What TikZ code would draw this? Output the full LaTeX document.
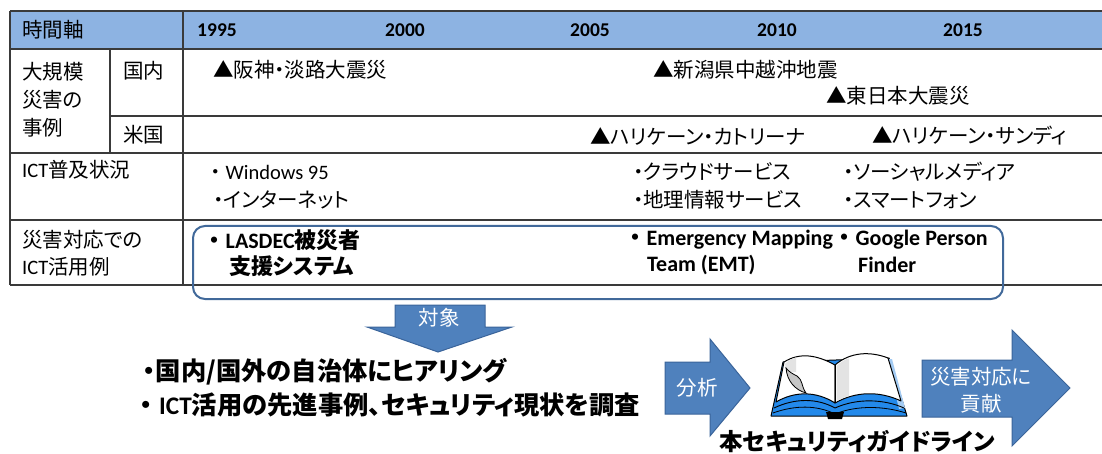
\documentclass[tikz,border=0pt]{standalone}
\usepackage{fontspec}
\setmainfont{Carlito}
\newfontfamily\jpf{Noto Sans CJK JP}[RawFeature=+palt]
\definecolor{hdrfill}{HTML}{8DB3E2}
\definecolor{gridline}{HTML}{3A3A3A}
\definecolor{arrowfill}{HTML}{4F81BD}
\definecolor{arrowline}{HTML}{3A649A}
\definecolor{boxline}{HTML}{41699A}
\definecolor{coverblue}{HTML}{2389EA}
\definecolor{edgeblue}{HTML}{A3CBF3}
\newcommand\tblsize{\fontsize{20.5}{24}\selectfont}
\newcommand\boldsize{\fontsize{22}{26}\selectfont}
% bullet dot followed by a Latin run
\newcommand\latinbullet{・\kern0.25em}
\begin{document}
\begin{tikzpicture}[x=1pt,y=-1pt,
  tight/.style={inner sep=0pt},
  txt/.style={tight,anchor=west,font=\tblsize\jpf},
  txtb/.style={tight,anchor=west,font=\boldsize\jpf\bfseries},
  yr/.style={tight,font=\fontsize{19.5}{22}\selectfont\bfseries},
  grid/.style={draw=gridline,line width=1.4pt},
  bigarrow/.style={fill=arrowfill,draw=arrowline,line width=1pt,line join=miter},
  wlab/.style={tight,text=white,font=\fontsize{20.5}{24}\selectfont\jpf},
  bul/.style={tight,anchor=west,font=\fontsize{25.3}{28}\selectfont\jpf\bfseries},
  ink/.style={draw=black,line width=1pt,line join=round}
]
\useasboundingbox (0,0) rectangle (1102,454);

% ---- timeline table ----
\fill[hdrfill] (10,11) rectangle (1102,49);
\draw[grid] (10,11) -- (1102,11);
\draw[grid] (10,49) -- (1102,49);
\draw[grid] (110,116) -- (1102,116);
\draw[grid] (10,153) -- (1102,153);
\draw[grid] (10,220) -- (1102,220);
\draw[grid] (10,285) -- (1102,285);
\draw[grid] (10,11) -- (10,285);
\draw[grid] (183,11) -- (183,285);
\draw[grid] (110,49) -- (110,153);

\node[txt] (axis) at (22,30) {時間軸};
\node[yr] (y1995) at (217,30) {1995};
\node[yr] (y2000) at (405,30) {2000};
\node[yr] (y2005) at (590,30) {2005};
\node[yr] (y2010) at (777,30) {2010};
\node[yr] (y2015) at (963,30) {2015};

\node[txt] (cases1) at (22,72) {大規模};
\node[txt] (cases2) at (22,100) {災害の};
\node[txt] (cases3) at (22,128) {事例};
\node[txt] (dom) at (123,71) {国内};
\node[txt] (usa) at (123,135) {米国};

\node[txt] (hanshin) at (213,70) {▲阪神・淡路大震災};
\node[txt] (chuetsu) at (653,70) {▲新潟県中越沖地震};
\node[txt] (tohoku) at (826,96) {▲東日本大震災};
\node[txt] (katrina) at (590,136) {▲ハリケーン・カトリーナ};
\node[txt] (sandy) at (872,136) {▲ハリケーン・サンディ};

\node[txt] (ictrow) at (22,170) {{\rmfamily ICT}普及状況};
\node[txt] (win) at (210,172) {\latinbullet{\rmfamily Windows 95}};
\node[txt] (inet) at (213,200) {・インターネット};
\node[txt] (cloud) at (633,172) {・クラウドサービス};
\node[txt] (gis) at (633,200) {・地理情報サービス};
\node[txt] (social) at (843,172) {・ソーシャルメディア};
\node[txt] (phone) at (843,200) {・スマートフォン};

\node[txt] (use1) at (22,240) {災害対応での};
\node[txt] (use2) at (22,267) {{\rmfamily ICT}活用例};
\node[txtb] (lasdec) at (209,240) {\latinbullet{\rmfamily LASDEC}被災者};
\node[txtb] (lasdec2) at (229,266) {支援システム};
\node[txtb] (emt) at (630,240) {\latinbullet{\rmfamily Emergency Mapping}};
\node[txtb] (emt2) at (647,265) {\rmfamily Team (EMT)};
\node[txtb] (gpf) at (839,240) {\latinbullet{\rmfamily Google Person}};
\node[txtb] (gpf2) at (858,265) {\rmfamily Finder};

% rounded frame around the ICT use cases
\node[draw=boxline,line width=2pt,rounded corners=12pt,inner sep=0pt,
      minimum width=810pt,minimum height=73pt] (usebox) at (598,262.5) {};

% ---- down arrow ----
\draw[bigarrow] (395,305) -- (485,305) -- (485,327) -- (512,327) -- (438,352)
  -- (367,327) -- (395,327) -- cycle;
\node[wlab] (target) at (439,318) {対象};

\node[bul] (hear) at (143,372) {・国内/国外の自治体にヒアリング};
\node[bul] (survey) at (140,405) {\latinbullet{\rmfamily ICT}活用の先進事例、セキュリティ現状を調査};

% ---- analysis arrow ----
\draw[bigarrow] (665,362) -- (710,362) -- (710,339) -- (750,388) -- (710,436)
  -- (710,414) -- (665,414) -- cycle;
\node[wlab] (analysis) at (697,388) {分析};

% ---- book ----
\filldraw[ink,fill=coverblue] (771,416) -- (783,362) -- (889,358) -- (907,416) -- cycle;
\fill[edgeblue] (887,359) -- (892,359) -- (905,408) -- (899,409) -- cycle;
% left page
\filldraw[ink,fill=white] (776,402) -- (784,362)
  .. controls (800,352) and (817,355) .. (835,365)
  -- (835,403)
  .. controls (816,391) and (795,391) .. cycle;
% right page
\filldraw[ink,fill=white] (835,365)
  .. controls (850,352) and (870,351) .. (888,358)
  -- (901,401)
  .. controls (880,391) and (856,391) .. (835,403) -- cycle;
% shading near the spine and curled corner
\fill[gray!22] (836.5,366) .. controls (842,361) and (846,359) .. (849,358.5)
  -- (849,396) .. controls (845,397) and (840,399) .. (836.5,401.5) -- cycle;
\fill[gray!22] (785,364) .. controls (789,360) and (793,358) .. (796,357.5)
  -- (796,372) -- (787,372) -- cycle;
\filldraw[draw=black,line width=0.8pt,fill=gray!45] (786,368)
  .. controls (787,381) and (795,390) .. (806,393)
  .. controls (801,386) and (803,380) .. (797,376)
  .. controls (793,374) and (789,372) .. (786,368) -- cycle;
\draw[ink] (835,365) -- (835,403);
% page edges along the bottom
\draw[ink,line width=0.9pt] (774,408) .. controls (795,398) and (817,398) .. (835,408)
  .. controls (857,398) and (884,399) .. (904,408);
\draw[ink,line width=0.8pt] (773,413) .. controls (795,405) and (817,405) .. (835,414)
  .. controls (857,405) and (884,406) .. (906,413);
\fill[black] (826,412) -- (844,412) -- (842,419) -- (828,419) -- cycle;

\node[tight,font=\fontsize{23.5}{26}\selectfont\jpf\bfseries] (guide) at (857,442) {本セキュリティガイドライン};

% ---- contribution arrow ----
\draw[bigarrow] (922,360) -- (1012,360) -- (1012,330) -- (1070,388) -- (1012,446)
  -- (1012,417) -- (922,417) -- cycle;
\node[wlab] (contrib1) at (981,377) {災害対応に};
\node[wlab] (contrib2) at (981,404) {貢献};
\end{tikzpicture}
\end{document}
